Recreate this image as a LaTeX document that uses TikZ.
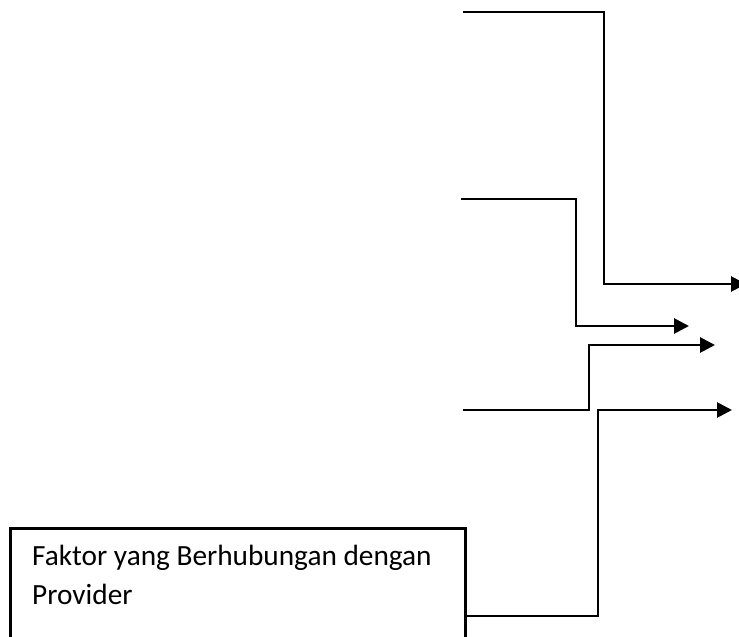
\documentclass[tikz,border=0pt]{standalone}
\usepackage{fontspec}
\setmainfont{Carlito}
\usetikzlibrary{arrows.meta}
\begin{document}
\begin{tikzpicture}[x=1pt,y=-1pt,
  conn/.style={line width=2.8pt, line join=miter},
  arr/.style={conn, -{Triangle[length=15pt,width=15pt]}},
  provbox/.style={draw, line width=2.6pt, inner sep=0pt, minimum width=455pt, minimum height=130pt},
  labeltext/.style={inner sep=0pt, font=\fontsize{29.3pt}{39pt}\selectfont}]
\useasboundingbox (0,0) rectangle (739,637);
\fill[white] (0,0) rectangle (739,637);
% box
\node[provbox, anchor=north west] (prov) at (9,527) {};
\node[labeltext, anchor=base west] (l1) at (32,565) {Faktor yang Berhubungan dengan};
\node[labeltext, anchor=base west] (l2) at (32,604) {Provider};
% free ends
\coordinate (s1) at (463,12);
\coordinate (s2) at (461,199);
\coordinate (s3) at (463,410);
\coordinate (s4) at ([yshift=-89pt]prov.north east);
\coordinate (t1) at (746,284);
\coordinate (t2) at (689,326);
\coordinate (t3) at (715,345);
\coordinate (t4) at (732,410);
% connectors
\draw[arr] (s1) -- (604,12) |- (t1);
\draw[arr] (s2) -- (576,199) |- (t2);
\draw[arr] (s3) -- (589,410) |- (t3);
\draw[arr] (s4) -- (598,616) |- (t4);
\end{tikzpicture}
\end{document}
